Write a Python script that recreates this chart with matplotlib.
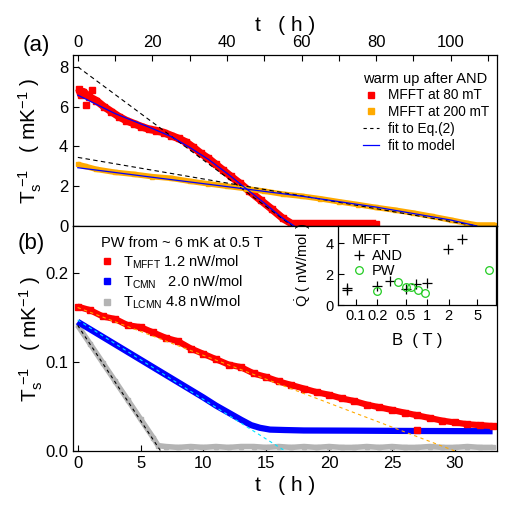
import matplotlib
matplotlib.use('Agg')
import matplotlib.pyplot as plt
from matplotlib.lines import Line2D

plt.rcParams['font.family'] = ['Liberation Sans', 'DejaVu Sans']
plt.rcParams['mathtext.fontset'] = 'custom'
plt.rcParams['mathtext.rm'] = 'Liberation Sans'
plt.rcParams['mathtext.it'] = 'Liberation Sans:italic'

# (a) warm up after AND
t_80 = [0.3, 0.8, 1.5, 3.0, 5, 7, 9, 11, 13, 15, 17, 19, 21, 23, 25, 27, 29, 31,
        33, 35, 37, 39, 41, 43.5, 46, 49, 52, 55, 57.3, 60, 65, 70, 75, 80]
Ts_80 = [6.9, 6.6, 6.75, 6.5, 6.3, 6.0, 5.75, 5.5, 5.3, 5.15, 5.0, 4.87, 4.8, 4.7,
         4.55, 4.4, 4.22, 3.95, 3.65, 3.4, 3.1, 2.8, 2.5, 2.14, 1.75, 1.3, 0.85,
         0.38, 0.12, 0.12, 0.12, 0.12, 0.12, 0.12]
t_80_out = [2.3, 3.7]
Ts_80_out = [6.08, 6.83]

t_200 = [0, 2, 5, 10, 15, 20, 25, 30, 35, 40, 45, 50, 55, 60, 65, 70, 75, 80,
         85, 90, 95, 100, 104, 107, 112]
Ts_200 = [3.1, 3.0, 2.85, 2.7, 2.6, 2.48, 2.4, 2.25, 2.12, 2.0, 1.88, 1.75, 1.6,
          1.5, 1.37, 1.22, 1.08, 0.93, 0.8, 0.65, 0.48, 0.3, 0.15, 0.05, 0.05]

t_model_80 = [0, 10, 20, 25, 30, 35, 40, 45, 50, 55, 58]
Ts_model_80 = [6.58, 5.65, 4.9, 4.5, 3.95, 3.35, 2.65, 1.9, 1.15, 0.38, 0.0]
t_model_200 = [0, 20, 40, 60, 80, 100, 107]
Ts_model_200 = [2.93, 2.45, 1.98, 1.5, 0.95, 0.3, 0.0]

t_eq2_80 = [0, 57.5]
Ts_eq2_80 = [8.0, 0.0]
t_eq2_200 = [0, 107]
Ts_eq2_200 = [3.45, 0.0]

# (b) PW from ~6 mK at 0.5 T
t_b = [0, 1, 2, 3, 4, 5, 6, 7, 8, 9, 10, 11, 12, 13, 14, 15, 16, 17, 18, 19, 20,
       21, 22, 23, 24, 25, 26, 27, 28, 29, 30, 31, 32, 33]
Ts_mfft = [0.162, 0.158, 0.151, 0.148, 0.141, 0.139, 0.133, 0.127, 0.123, 0.115,
           0.109, 0.103, 0.097, 0.094, 0.087, 0.083, 0.078, 0.074, 0.070, 0.066,
           0.063, 0.059, 0.056, 0.052, 0.049, 0.046, 0.043, 0.040, 0.037, 0.034,
           0.032, 0.030, 0.029, 0.028]
t_cmn = [0, 2, 4, 6, 8, 10, 11, 12, 13, 13.8, 14.5, 15.3, 16.5, 18, 22, 26, 30, 33]
Ts_cmn = [0.145, 0.128, 0.111, 0.094, 0.077, 0.060, 0.051, 0.043, 0.035, 0.029,
          0.026, 0.024, 0.0235, 0.023, 0.0228, 0.0225, 0.0223, 0.0222]
t_lcmn = [0, 1, 2, 3, 4, 5, 6, 6.4, 7, 8, 9, 10, 11, 12, 13, 14, 15, 16, 17, 18,
          19, 20, 21, 22, 23, 24, 25, 26, 27, 28, 29, 30, 31, 32, 33]
Ts_lcmn = [0.141, 0.120, 0.099, 0.078, 0.057, 0.036, 0.015, 0.006, 0.005, 0.004,
           0.005, 0.004, 0.005, 0.004, 0.005, 0.005, 0.004, 0.005, 0.004, 0.005,
           0.004, 0.005, 0.004, 0.004, 0.005, 0.004, 0.005, 0.004, 0.004, 0.005,
           0.004, 0.004, 0.005, 0.004, 0.004]
t_mfft_out = [27.0]
Ts_mfft_out = [0.0235]

t_fit_mfft = [0, 30]
Ts_fit_mfft = [0.161, 0.0]
t_fit_cmn = [0, 16.5]
Ts_fit_cmn = [0.147, 0.0]
t_fit_lcmn = [0, 6.6]
Ts_fit_lcmn = [0.141, 0.0]

# inset: heat leak vs field
B_and = [0.075, 0.075, 0.195, 0.3, 0.5, 0.69, 1.0, 1.97, 3.06]
Q_and = [1.12, 0.97, 1.22, 1.57, 1.05, 1.33, 1.44, 3.6, 4.24]
B_pw = [0.195, 0.39, 0.5, 0.6, 0.75, 0.92, 7.26]
Q_pw = [0.9, 1.46, 1.18, 1.14, 0.97, 0.8, 2.26]

RED = '#ff0000'
ORANGE = '#ffaa00'
BLUE = '#0000ff'
GRAY = '#b4b4b4'

ylab = r'T$_\mathrm{s}^{\ \mathrm{-1}}$   ( mK$^\mathrm{-1}$ )'
xlab = 't   ( h )'

fig = plt.figure(figsize=(5.13, 5.23), dpi=100)
axa = fig.add_axes([0.1423, 0.5679, 0.8265, 0.3270])
axb = fig.add_axes([0.1423, 0.1377, 0.8265, 0.4302])
axi = fig.add_axes([0.6589, 0.4168, 0.3080, 0.1511])

for ax in (axa, axb, axi):
    ax.tick_params(direction='in', which='both', length=4, width=0.8)
    for s in ax.spines.values():
        s.set_linewidth(0.9)

# panel (a)
axa.plot(t_80, Ts_80, '-', color=RED, lw=5.5, solid_capstyle='butt', zorder=2)
axa.plot(t_80, Ts_80, 's', color=RED, ms=4, zorder=2)
axa.plot(t_80_out, Ts_80_out, 's', color=RED, ms=4, zorder=2)
axa.plot(t_200, Ts_200, '-', color=ORANGE, lw=4, solid_capstyle='butt', zorder=2)
axa.plot(t_200, Ts_200, 's', color=ORANGE, ms=3.5, zorder=2)
axa.plot(t_eq2_80, Ts_eq2_80, '--', color='black', lw=0.8, dashes=(4, 3), zorder=3)
axa.plot(t_eq2_200, Ts_eq2_200, '--', color='black', lw=0.8, dashes=(4, 3), zorder=3)
axa.plot(t_model_80, Ts_model_80, '-', color=BLUE, lw=0.9, zorder=4)
axa.plot(t_model_200, Ts_model_200, '-', color=BLUE, lw=0.9, zorder=4)

axa.set_xlim(-1.3, 112.4)
axa.set_ylim(0, 8.6)
axa.xaxis.tick_top()
axa.xaxis.set_label_position('top')
axa.set_xticks([0, 20, 40, 60, 80, 100])
axa.set_xticks([10, 30, 50, 70, 90, 110], minor=True)
axa.set_yticks([0, 2, 4, 6, 8])
axa.tick_params(labelsize=12)
axa.set_xlabel(xlab, fontsize=15, labelpad=3)
axa.set_ylabel(ylab, fontsize=15)
axa.yaxis.set_label_coords(-0.068, 0.5)

handles_a = [
    Line2D([], [], ls='none', marker='s', ms=4, color=RED),
    Line2D([], [], ls='none', marker='s', ms=4, color=ORANGE),
    Line2D([], [], ls='--', dashes=(3, 3), lw=0.8, color='black'),
    Line2D([], [], ls='-', lw=0.9, color=BLUE),
]
leg_a = axa.legend(handles_a, ['MFFT at 80 mT', 'MFFT at 200 mT', 'fit to Eq.(2)', 'fit to model'],
                   title='warm up after AND', loc='upper right', bbox_to_anchor=(1.0, 0.95),
                   frameon=False, fontsize=9.8, title_fontsize=10.5, handlelength=1.2,
                   handletextpad=0.6, labelspacing=0.2, borderpad=0.1, alignment='left')

# panel (b)
axb.plot(t_lcmn, Ts_lcmn, '-', color=GRAY, lw=4, solid_capstyle='butt', zorder=2)
axb.plot(t_lcmn, Ts_lcmn, 's', color=GRAY, ms=3.5, zorder=2)
axb.plot(t_cmn, Ts_cmn, '-', color=BLUE, lw=4.5, solid_capstyle='butt', zorder=2)
axb.plot(t_b, Ts_mfft, '-', color=RED, lw=4.5, solid_capstyle='butt', zorder=2)
axb.plot(t_b, Ts_mfft, 's', color=RED, ms=4, zorder=2)
axb.plot(t_mfft_out, Ts_mfft_out, 's', color=RED, ms=4, zorder=3)
axb.plot(t_fit_mfft, Ts_fit_mfft, '--', color=ORANGE, lw=0.8, dashes=(3, 3), zorder=4)
axb.plot(t_fit_cmn, Ts_fit_cmn, '--', color='#00e5ff', lw=0.8, dashes=(3, 3), zorder=4)
axb.plot(t_fit_lcmn, Ts_fit_lcmn, '--', color='black', lw=0.8, dashes=(3, 3), zorder=4)

axb.set_xlim(-0.37, 33.35)
axb.set_ylim(0, 0.2525)
axb.set_xticks([0, 5, 10, 15, 20, 25, 30])
axb.set_yticks([0.0, 0.1, 0.2])
axb.set_yticklabels(['0.0', '0.1', '0.2'])
axb.tick_params(labelsize=12)
axb.set_xlabel(xlab, fontsize=15, labelpad=4)
axb.set_ylabel(ylab, fontsize=15)
axb.yaxis.set_label_coords(-0.067, 0.5)

handles_b = [
    Line2D([], [], ls='none', marker='s', ms=4.5, color=RED),
    Line2D([], [], ls='none', marker='s', ms=4.5, color=BLUE),
    Line2D([], [], ls='none', marker='s', ms=4.5, color=GRAY),
]
labels_b = [r'T$_\mathrm{MFFT}$ 1.2 nW/mol',
            r'T$_\mathrm{CMN}$   2.0 nW/mol',
            r'T$_\mathrm{LCMN}$ 4.8 nW/mol']
leg_b = axb.legend(handles_b, labels_b, title=r'PW from ~ 6 mK at 0.5 T',
                   loc='upper left', bbox_to_anchor=(0.043, 1.0), frameon=False,
                   fontsize=10.5, title_fontsize=10.5, handlelength=0.8, handletextpad=0.7,
                   labelspacing=0.2, borderpad=0.2, alignment='left')

# inset
axi.plot(B_and, Q_and, '+', color='black', ms=7, mew=0.9, ls='none', label='AND')
axi.plot(B_pw, Q_pw, 'o', mfc='none', mec='#22cc22', ms=5.5, mew=0.9, ls='none', label='PW')
axi.set_xscale('log')
axi.set_xlim(0.056, 9.2)
axi.set_ylim(0, 5.1)
axi.set_xticks([0.1, 0.2, 0.5, 1, 2, 5])
axi.set_xticklabels(['0.1', '0.2', '0.5', '1', '2', '5'])
axi.xaxis.set_minor_locator(plt.NullLocator())
axi.set_yticks([0, 2, 4])
axi.tick_params(labelsize=10.5, pad=3)
axi.set_xlabel('B  ( T )', fontsize=12, labelpad=7)
axi.set_ylabel(r'$\dot{\mathrm{Q}}$ ( nW/mol )', fontsize=10.5, labelpad=9)
axi.legend(title='MFFT', loc='upper left', bbox_to_anchor=(0.03, 1.02), frameon=False,
           fontsize=10.5, title_fontsize=10.5, handlelength=1.0, handletextpad=0.4,
           labelspacing=0.1, borderpad=0.1, alignment='left')

fig.text(0.07, 0.913, '(a)', fontsize=16, ha='center', va='center')
fig.text(0.061, 0.535, '(b)', fontsize=16, ha='center', va='center')

fig.savefig('out.png', dpi=100)
